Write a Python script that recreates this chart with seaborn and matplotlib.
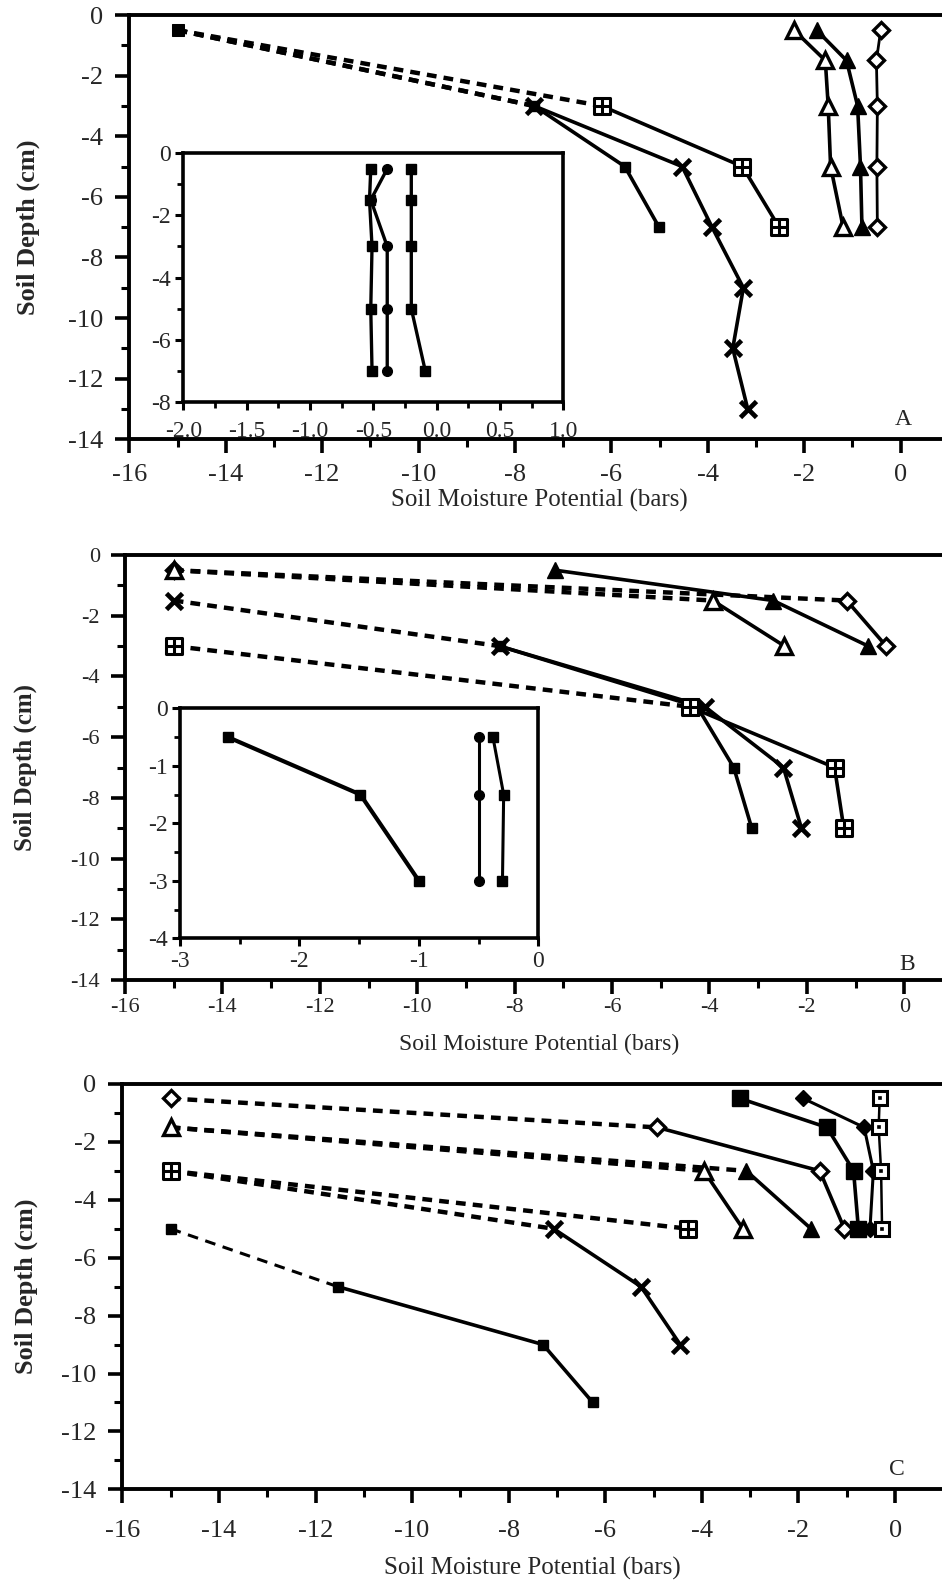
import numpy as np
import pandas as pd
import matplotlib
matplotlib.use("Agg")
import matplotlib.pyplot as plt
from matplotlib.path import Path
from matplotlib.ticker import FormatStrFormatter
import seaborn as sns

# ---------------- data ----------------
# Panel A (main)
a_sqplus_x = [-15.0, -6.2, -3.28, -2.52]
a_sqplus_y = [-0.5, -3, -5, -7]
a_cross_x = [-15.0, -7.6, -4.53, -3.91, -3.26, -3.48, -3.17]
a_cross_y = [-0.5, -3, -5, -7, -9, -11, -13]
a_sq_x = [-15.0, -7.6, -5.72, -5.01]
a_sq_y = [-0.5, -3, -5, -7]
a_otri_x = [-2.21, -1.56, -1.5, -1.45, -1.19]
a_otri_y = [-0.5, -1.5, -3, -5, -7]
a_ftri_x = [-1.74, -1.12, -0.89, -0.83, -0.8]
a_ftri_y = [-0.5, -1.5, -3, -5, -7]
a_odia_x = [-0.41, -0.5, -0.48, -0.49, -0.48]
a_odia_y = [-0.5, -1.5, -3, -5, -7]

# Panel A (inset)
ia_sq1_x = [-0.52, -0.53, -0.51, -0.52, -0.51]
ia_cir_x = [-0.39, -0.52, -0.39, -0.39, -0.39]
ia_sq2_x = [-0.2, -0.2, -0.2, -0.2, -0.09]
ia_y = [-0.5, -1.5, -3, -5, -7]

# Panel B (main)
b_otri_x = [-15.0, -3.93, -2.46]
b_otri_y = [-0.5, -1.5, -3]
b_ftri_x = [-7.17, -2.69, -0.74]
b_ftri_y = [-0.5, -1.5, -3]
b_odia_x = [-15.0, -1.18, -0.37]
b_odia_y = [-0.5, -1.5, -3]
b_cross_x = [-15.0, -8.31, -4.09, -2.48, -2.11]
b_cross_y = [-1.5, -3, -5, -7, -9]
b_sqplus_x = [-15.0, -4.4, -1.43, -1.24]
b_sqplus_y = [-3, -5, -7, -9]
b_sq_x = [-8.31, -4.25, -3.5, -3.13]
b_sq_y = [-3, -5, -7, -9]

# Panel B (inset)
ib_sq1_x = [-2.6, -1.49, -1.0]
ib_cir_x = [-0.5, -0.5, -0.5]
ib_sq2_x = [-0.38, -0.29, -0.3]
ib_y = [-0.5, -1.5, -3]

# Panel C
c_odia_x = [-15.0, -4.92, -1.56, -1.05]
c_odia_y = [-0.5, -1.5, -3, -5]
c_otri_x = [-15.0, -3.96, -3.15]
c_otri_y = [-1.5, -3, -5]
c_ftri_x = [-15.0, -3.08, -1.74]
c_ftri_y = [-1.5, -3, -5]
c_sqplus_x = [-15.0, -4.28]
c_sqplus_y = [-3, -5]
c_cross_x = [-15.0, -7.07, -5.26, -4.45]
c_cross_y = [-3, -5, -7, -9]
c_sq_x = [-15.0, -11.54, -7.29, -6.26]
c_sq_y = [-5, -7, -9, -11]
c_bigsq_x = [-3.21, -1.41, -0.86, -0.76]
c_bigsq_y = [-0.5, -1.5, -3, -5]
c_fdia_x = [-1.9, -0.64, -0.45, -0.52]
c_fdia_y = [-0.5, -1.5, -3, -5]
c_dotsq_x = [-0.32, -0.34, -0.29, -0.27]
c_dotsq_y = [-0.5, -1.5, -3, -5]

xticks_main = [-16, -14, -12, -10, -8, -6, -4, -2, 0]
yticks_main = [-14, -12, -10, -8, -6, -4, -2, 0]
xlabel = "Soil Moisture Potential (bars)"
ylabel = "Soil Depth (cm)"

# ---------------- style ----------------
sns.set_style("ticks")
plt.rcParams["font.family"] = ["Liberation Serif", "DejaVu Serif"]
plt.rcParams["axes.unicode_minus"] = False

SQPLUS = Path([(-1, -1), (1, -1), (1, 1), (-1, 1), (-1, -1),
               (0, -1), (0, 1), (-1, 0), (1, 0)],
              [Path.MOVETO, Path.LINETO, Path.LINETO, Path.LINETO, Path.CLOSEPOLY,
               Path.MOVETO, Path.LINETO, Path.MOVETO, Path.LINETO])

STY = {
    "sqplus": dict(marker=SQPLUS, markersize=12, markerfacecolor="white", markeredgewidth=2.2),
    "cross": dict(marker="x", markersize=12, markerfacecolor="black", markeredgewidth=3.4),
    "sq": dict(marker="s", markersize=6.5, markerfacecolor="black", markeredgewidth=1),
    "bigsq": dict(marker="s", markersize=11, markerfacecolor="black", markeredgewidth=1),
    "otri": dict(marker="^", markersize=11, markerfacecolor="white", markeredgewidth=2.4),
    "ftri": dict(marker="^", markersize=12, markerfacecolor="black", markeredgewidth=1),
    "odia": dict(marker="D", markersize=8.5, markerfacecolor="white", markeredgewidth=2.4),
    "fdia": dict(marker="D", markersize=8.5, markerfacecolor="black", markeredgewidth=1),
    "cir": dict(marker="o", markersize=7, markerfacecolor="black", markeredgewidth=1),
    "dotsq": dict(marker="s", markersize=10, markerfacecolor="white", markeredgewidth=2.2),
}


def line(ax, xs, ys, lw=2.6, **kw):
    sns.lineplot(x=list(xs), y=list(ys), sort=False, estimator=None, ax=ax,
                 color="black", lw=lw, legend=False, markeredgecolor="black", **kw)


def series(ax, xs, ys, kind, dashed_first=False, show_start=True, lw=2.6,
           dash=(2.2, 1.6), dash_lw=3.2):
    st = STY[kind]
    if dashed_first:
        line(ax, xs[:2], ys[:2], lw=dash_lw, linestyle=(0, dash))
        line(ax, xs[1:], ys[1:], lw=lw, **st)
        if show_start:
            line(ax, xs[:1], ys[:1], lw=0, **st)
    else:
        line(ax, xs, ys, lw=lw, **st)
    if kind == "dotsq":
        sns.scatterplot(x=list(xs), y=list(ys), marker="s", s=9, color="black",
                        ax=ax, legend=False, zorder=5)


def style_main(ax, fs, lab_fs, xpad, ypad, xlabpad, ylabpad):
    ax.set_xlim(-16, 1)
    ax.set_ylim(-14, 0)
    ax.set_xticks(xticks_main)
    ax.set_xticks(np.arange(-15, 1, 2), minor=True)
    ax.set_yticks(yticks_main)
    ax.set_yticks(np.arange(-13, 0, 2), minor=True)
    ax.xaxis.set_major_formatter(FormatStrFormatter("%d"))
    ax.yaxis.set_major_formatter(FormatStrFormatter("%d"))
    ax.tick_params(axis="both", which="major", direction="out", length=10, width=2.6,
                   labelsize=fs, color="black")
    ax.tick_params(axis="both", which="minor", direction="out", length=6, width=2.2, color="black")
    ax.tick_params(axis="x", which="major", pad=xpad)
    ax.tick_params(axis="y", which="major", pad=ypad)
    for s in ["left", "bottom", "top"]:
        ax.spines[s].set_linewidth(2.8)
        ax.spines[s].set_color("black")
    ax.spines["right"].set_visible(False)
    ax.set_xlabel(xlabel, fontsize=lab_fs, labelpad=xlabpad)
    ax.set_ylabel(ylabel, fontsize=lab_fs + 1, fontweight="bold", labelpad=ylabpad)


def style_inset(ax, xlim, ylim, xt, xminor, yt, yminor, xfmt, fs, xpad):
    ax.set_facecolor("white")
    ax.set_xlim(*xlim)
    ax.set_ylim(*ylim)
    ax.set_xticks(xt)
    ax.set_xticks(xminor, minor=True)
    ax.set_yticks(yt)
    ax.set_yticks(yminor, minor=True)
    ax.xaxis.set_major_formatter(FormatStrFormatter(xfmt))
    ax.yaxis.set_major_formatter(FormatStrFormatter("%d"))
    ax.tick_params(axis="both", which="major", direction="out", length=6, width=2.2,
                   labelsize=fs, color="black")
    ax.tick_params(axis="both", which="minor", direction="out", length=4, width=2, color="black")
    ax.tick_params(axis="x", which="major", pad=xpad)
    ax.tick_params(axis="y", which="major", pad=3)
    for s in ax.spines.values():
        s.set_linewidth(2.6)
        s.set_color("black")
        s.set_visible(True)
    ax.set_xlabel("")
    ax.set_ylabel("")


fig = plt.figure(figsize=(9.42, 15.81), dpi=100)
W, H = 942.0, 1581.0


def rect(left, top, right, bottom):
    return [left / W, 1 - bottom / H, (right - left) / W, (bottom - top) / H]


# ---------------- Panel A ----------------
axA = fig.add_axes(rect(129.3, 15, 129.3 + 17 * 48.2, 439.3))
series(axA, a_sqplus_x, a_sqplus_y, "sqplus", dashed_first=True, show_start=False)
series(axA, a_cross_x, a_cross_y, "cross", dashed_first=True, show_start=False)
series(axA, a_sq_x, a_sq_y, "sq", dashed_first=True, show_start=False)
line(axA, a_sq_x[:1], a_sq_y[:1], lw=0, marker="s", markersize=9, markerfacecolor="black")
series(axA, a_otri_x, a_otri_y, "otri")
series(axA, a_ftri_x, a_ftri_y, "ftri")
series(axA, a_odia_x, a_odia_y, "odia", lw=2.0)
style_main(axA, 19, 18, 8, 9, 2, 20)
axA.text(0.05, -13.35, "A", fontsize=17, ha="center", va="center")

iA = fig.add_axes(rect(183.3, 153.3, 563.3, 401.7), zorder=5)
series(iA, ia_sq1_x, ia_y, "sq", lw=2.4)
series(iA, ia_cir_x, ia_y, "cir", lw=2.4)
series(iA, ia_sq2_x, ia_y, "sq", lw=2.4)
style_inset(iA, (-2, 1), (-8, 0), np.arange(-2, 1.01, 0.5), np.arange(-2, 1.01, 0.25),
            [0, -2, -4, -6, -8], [-1, -3, -5, -7], "%.1f", 17, 8)

# ---------------- Panel B ----------------
axB = fig.add_axes(rect(125, 555, 125 + 17 * 48.7, 980))
series(axB, b_odia_x, b_odia_y, "odia", dashed_first=True)
series(axB, b_otri_x, b_otri_y, "otri", dashed_first=True)
series(axB, b_ftri_x, b_ftri_y, "ftri")
series(axB, b_sq_x, b_sq_y, "sq")
series(axB, b_cross_x, b_cross_y, "cross", dashed_first=True)
series(axB, b_sqplus_x, b_sqplus_y, "sqplus", dashed_first=True)
style_main(axB, 16, 17, 3, 8, 12, 24)
axB.text(0.06, -13.5, "B", fontsize=17, ha="center", va="center")

iB = fig.add_axes(rect(180, 708.3, 538.3, 938.3), zorder=5)
series(iB, ib_sq1_x, ib_y, "sq", lw=3.0)
series(iB, ib_cir_x, ib_y, "cir", lw=2.2)
series(iB, ib_sq2_x, ib_y, "sq", lw=2.2)
style_inset(iB, (-3, 0), (-4, 0), [-3, -2, -1, 0], np.arange(-3, 0.01, 0.5),
            [0, -1, -2, -3, -4], np.arange(-4, 0.01, 0.5), "%d", 17, 3)

# ---------------- Panel C ----------------
axC = fig.add_axes(rect(122.3, 1084, 122.3 + 17 * 48.3, 1489.3))
series(axC, c_odia_x, c_odia_y, "odia", dashed_first=True)
series(axC, c_ftri_x, c_ftri_y, "ftri", dashed_first=True, show_start=False)
series(axC, c_otri_x, c_otri_y, "otri", dashed_first=True)
series(axC, c_cross_x, c_cross_y, "cross", dashed_first=True, show_start=False)
series(axC, c_sqplus_x, c_sqplus_y, "sqplus", dashed_first=True)
series(axC, c_sq_x, c_sq_y, "sq", dashed_first=True, dash=(3.5, 2.5), dash_lw=2.2)
series(axC, c_bigsq_x, c_bigsq_y, "bigsq")
series(axC, c_fdia_x, c_fdia_y, "fdia", lw=2.2)
series(axC, c_dotsq_x, c_dotsq_y, "dotsq", lw=1.8)
style_main(axC, 19, 18, 12, 9, 11, 16)
axC.text(0.03, -13.3, "C", fontsize=17, ha="center", va="center")

fig.savefig("out.png", dpi=100)
